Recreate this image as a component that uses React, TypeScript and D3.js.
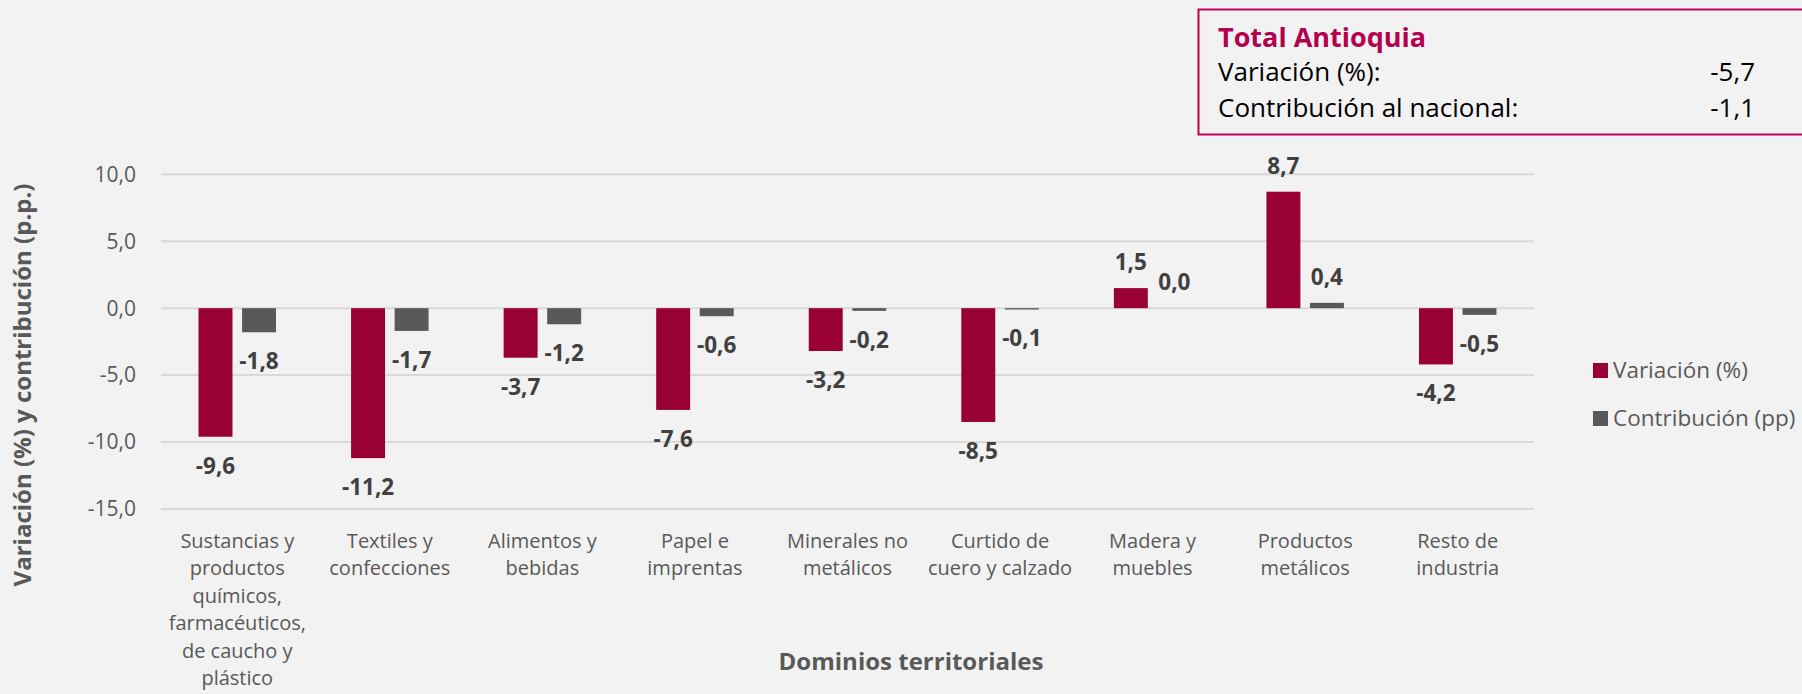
import React from "react";
import * as d3 from "d3";

const categories: string[][] = [
  ["Sustancias y", "productos", "químicos,", "farmacéuticos,", "de caucho y", "plástico"],
  ["Textiles y", "confecciones"],
  ["Alimentos y", "bebidas"],
  ["Papel e", "imprentas"],
  ["Minerales no", "metálicos"],
  ["Curtido de", "cuero y calzado"],
  ["Madera y", "muebles"],
  ["Productos", "metálicos"],
  ["Resto de", "industria"],
];
const variacion: number[] = [-9.6, -11.2, -3.7, -7.6, -3.2, -8.5, 1.5, 8.7, -4.2];
const contribucion: number[] = [-1.8, -1.7, -1.2, -0.6, -0.2, -0.1, 0.0, 0.4, -0.5];
const yTicks: number[] = [10, 5, 0, -5, -10, -15];
const seriesNames: string[] = ["Variación (%)", "Contribución (pp)"];
const seriesColors: string[] = ["#990033", "#595959"];
const totalTitle = "Total Antioquia";
const totalRows: [string, string][] = [
  ["Variación (%):", "-5,7"],
  ["Contribución al nacional:", "-1,1"],
];

const W = 1802;
const H = 694;
const FONT = "'Open Sans', 'Noto Sans', sans-serif";

const fmt = (v: number) => v.toFixed(1).replace(".", ",");

export default function App() {
  const keys = categories.map((c) => c.join(" "));
  const x = d3.scaleBand<string>().domain(keys).range([161, 1534]).padding(0);
  const groupW = x.bandwidth() * 0.508;
  const x1 = d3
    .scaleBand<string>()
    .domain(["v", "c"])
    .range([(x.bandwidth() - groupW) / 2, (x.bandwidth() + groupW) / 2])
    .paddingInner(0.22);
  const y = d3.scaleLinear().domain([-15, 10]).range([509, 174.3]);
  const series = [
    { key: "v", values: variacion, color: seriesColors[0] },
    { key: "c", values: contribucion, color: seriesColors[1] },
  ];

  return (
    <svg
      width={W}
      height={H}
      style={{ position: "absolute", left: 0, top: 0, fontFamily: FONT }}
    >
      <rect x={0} y={0} width={W} height={H} fill="#F2F2F2" />
      {yTicks.map((t) => (
        <g key={t}>
          <line x1={161} x2={1534} y1={y(t)} y2={y(t)} stroke="#D9D9D9" strokeWidth={2} />
          <text x={136} y={y(t)} dy="0.35em" textAnchor="end" fontSize={21} fill="#595959">
            {fmt(t)}
          </text>
        </g>
      ))}
      {series.map((s) =>
        s.values.map((v, i) => {
          const bx = (x(keys[i]) as number) + (x1(s.key) as number);
          const y0 = y(0);
          const yv = y(v);
          return (
            <rect
              key={s.key + i}
              x={bx}
              y={Math.min(y0, yv)}
              width={x1.bandwidth()}
              height={Math.abs(yv - y0)}
              fill={s.color}
            />
          );
        })
      )}
      {series.map((s) =>
        s.values.map((v, i) => {
          const cx = (x(keys[i]) as number) + (x1(s.key) as number) + x1.bandwidth() / 2;
          const cy = v < 0 ? y(v) + 29 : y(v) - 26;
          return (
            <text
              key={"l" + s.key + i}
              x={cx}
              y={cy}
              dy="0.35em"
              textAnchor="middle"
              fontSize={22.5}
              fontWeight="bold"
              fill="#404040"
            >
              {fmt(v)}
            </text>
          );
        })
      )}
      {categories.map((lines, i) => (
        <text
          key={"c" + i}
          x={(x(keys[i]) as number) + x.bandwidth() / 2}
          y={548}
          textAnchor="middle"
          fontSize={20}
          fill="#595959"
        >
          {lines.map((ln, j) => (
            <tspan key={j} x={(x(keys[i]) as number) + x.bandwidth() / 2} dy={j === 0 ? 0 : 27.4}>
              {ln}
            </tspan>
          ))}
        </text>
      ))}
      <text x={911} y={662} dy="0.35em" textAnchor="middle" fontSize={24} fontWeight="bold" fill="#595959">
        Dominios territoriales
      </text>
      <text
        transform={`translate(23,385) rotate(-90)`}
        dy="0.35em"
        textAnchor="middle"
        fontSize={24}
        fontWeight="bold"
        fill="#595959"
      >
        Variación (%) y contribución (p.p.)
      </text>
      {seriesNames.map((n, i) => (
        <g key={n} transform={`translate(1593,${363 + i * 48})`}>
          <rect x={0} y={0} width={15} height={15} fill={seriesColors[i]} />
          <text x={20} y={7.5} dy="0.35em" fontSize={22.5} fill="#595959">
            {n}
          </text>
        </g>
      ))}
      <rect x={1198.5} y={9.5} width={700} height={125} fill="none" stroke="#C0004F" strokeWidth={2} />
      <text x={1218} y={46.7} fontSize={27} fontWeight="bold" fill="#B5004F">
        {totalTitle}
      </text>
      {totalRows.map((r, i) => (
        <g key={r[0]}>
          <text x={1218} y={81 + i * 35.7} fontSize={26} fill="#000000">
            {r[0]}
          </text>
          <text x={1755} y={81 + i * 35.7} fontSize={26} fill="#000000" textAnchor="end">
            {r[1]}
          </text>
        </g>
      ))}
    </svg>
  );
}
